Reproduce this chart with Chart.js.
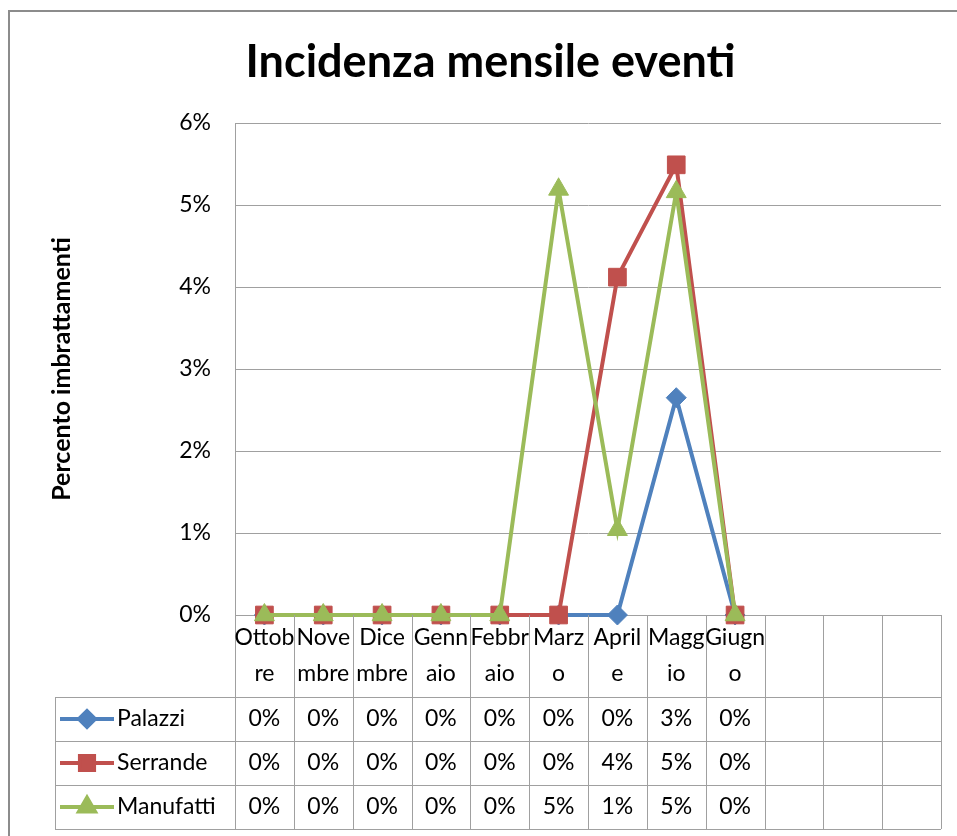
<!DOCTYPE html>
<html>
<head>
<meta charset="utf-8">
<title>Incidenza mensile eventi</title>
<script src="https://cdn.jsdelivr.net/npm/chart.js@4"></script>
<style>
  html, body { margin: 0; padding: 0; background: #fff; }
  #wrap { width: 957px; height: 836px; }
</style>
</head>
<body>
<div id="wrap"><canvas id="eventiChart" width="957" height="836"></canvas></div>
<script>
// dati (valori in percento)
const months = ['Ottobre', 'Novembre', 'Dicembre', 'Gennaio', 'Febbraio', 'Marzo', 'Aprile', 'Maggio', 'Giugno', '', '', ''];
const monthLines = [['Ottob', 're'], ['Nove', 'mbre'], ['Dice', 'mbre'], ['Genn', 'aio'], ['Febbr', 'aio'],
  ['Marz', 'o'], ['April', 'e'], ['Magg', 'io'], ['Giugn', 'o'], [], [], []];
const palazzi = [0, 0, 0, 0, 0, 0, 0, 2.65, 0];
const serrande = [0, 0, 0, 0, 0, 0, 4.12, 5.49, 0];
const manufatti = [0, 0, 0, 0, 0, 5.19, 1.04, 5.16, 0];
const yTicks = [0, 1, 2, 3, 4, 5, 6];

const FONT = 'Lato, "Open Sans", sans-serif';
const gridColor = '#a0a0a0';

const series = [
  { label: 'Palazzi', data: palazzi, color: '#4F81BD', style: 'rectRot', radius: 10, order: 2 },
  { label: 'Serrande', data: serrande, color: '#C0504D', style: 'rect', radius: 12.5, order: 1 },
  { label: 'Manufatti', data: manufatti, color: '#9BBB59', style: 'triangle', radius: 11.5, order: 0 }
];

// cornice esterna del grafico
const frame = {
  id: 'frame',
  beforeDraw(chart) {
    const ctx = chart.ctx;
    ctx.save();
    ctx.strokeStyle = '#8c8c8c';
    ctx.lineWidth = 2;
    ctx.beginPath();
    ctx.moveTo(9, chart.height);
    ctx.lineTo(9, 11);
    ctx.lineTo(chart.width, 11);
    ctx.stroke();
    ctx.restore();
  }
};

// tabella dati sotto il grafico
const dataTable = {
  id: 'dataTable',
  afterDraw(chart) {
    const ctx = chart.ctx;
    const x = chart.scales.x;
    const area = chart.chartArea;
    const colW = (area.right - area.left) / months.length;
    const top = area.bottom;
    const labelRowH = 82;
    const rowH = 44;
    const legendLeft = 55;
    const rowsTop = top + labelRowH;
    const bottom = rowsTop + rowH * series.length;

    ctx.save();
    ctx.strokeStyle = gridColor;
    ctx.lineWidth = 1;
    ctx.beginPath();
    for (let i = 0; i <= months.length; i++) {
      const px = Math.round(area.left + colW * i) + 0.5;
      ctx.moveTo(px, top);
      ctx.lineTo(px, bottom);
    }
    ctx.moveTo(legendLeft + 0.5, rowsTop);
    ctx.lineTo(legendLeft + 0.5, bottom);
    for (let r = 0; r <= series.length; r++) {
      const py = Math.round(rowsTop + rowH * r) + 0.5;
      ctx.moveTo(legendLeft, py);
      ctx.lineTo(area.right, py);
    }
    ctx.stroke();

    ctx.fillStyle = '#000';
    ctx.font = '23px ' + FONT;
    ctx.textAlign = 'center';
    ctx.textBaseline = 'middle';
    monthLines.forEach((lines, i) => {
      const cx = x.getPixelForValue(i);
      lines.forEach((t, k) => ctx.fillText(t, cx, top + 23 + k * 36));
    });

    series.forEach((s, r) => {
      const cy = rowsTop + rowH * r + rowH / 2;
      // voce di legenda
      ctx.strokeStyle = s.color;
      ctx.lineWidth = 4;
      ctx.beginPath();
      ctx.moveTo(60, cy);
      ctx.lineTo(114, cy);
      ctx.stroke();
      ctx.fillStyle = s.color;
      Chart.helpers.drawPoint(ctx, { pointStyle: s.style, radius: s.radius * 0.8, borderWidth: 1 }, 87, cy);
      ctx.fillStyle = '#000';
      ctx.textAlign = 'left';
      ctx.fillText(s.label, 117, cy);
      ctx.textAlign = 'center';
      s.data.forEach((v, i) => {
        ctx.fillText(Math.round(v) + '%', x.getPixelForValue(i), cy);
      });
    });
    ctx.restore();
  }
};

new Chart(document.getElementById('eventiChart'), {
  type: 'line',
  data: {
    labels: months,
    datasets: series.map(s => ({
      label: s.label,
      data: s.data,
      order: s.order,
      borderColor: s.color,
      backgroundColor: s.color,
      borderWidth: 4,
      pointStyle: s.style,
      pointRadius: s.radius,
      pointHoverRadius: s.radius,
      pointBorderWidth: 1,
      tension: 0,
      clip: false
    }))
  },
  options: {
    responsive: false,
    animation: false,
    events: [],
    layout: { padding: { left: 40, right: 16, top: 0, bottom: 221 } },
    plugins: {
      legend: { display: false },
      tooltip: { enabled: false },
      title: {
        display: true,
        text: 'Incidenza mensile eventi',
        color: '#000',
        font: { family: FONT, size: 45, weight: 'bold' },
        padding: { top: 35, bottom: 34 }
      }
    },
    scales: {
      x: {
        type: 'category',
        offset: true,
        ticks: { display: false },
        grid: { display: false },
        border: { display: false },
        afterFit(scale) { scale.height = 0; }
      },
      y: {
        min: 0,
        max: 6,
        afterBuildTicks(scale) { scale.ticks = yTicks.map(v => ({ value: v })); },
        ticks: {
          color: '#000',
          padding: 24,
          font: { family: FONT, size: 23 },
          callback: v => v + '%'
        },
        grid: { color: gridColor, drawTicks: false },
        border: { display: true, color: gridColor },
        title: {
          display: true,
          text: 'Percento imbrattamenti',
          color: '#000',
          font: { family: FONT, size: 25, weight: 'bold' },
          padding: { top: 7, bottom: 0 }
        },
        afterFit(scale) { scale.width = 195; }
      }
    }
  },
  plugins: [frame, dataTable]
});
</script>
</body>
</html>
